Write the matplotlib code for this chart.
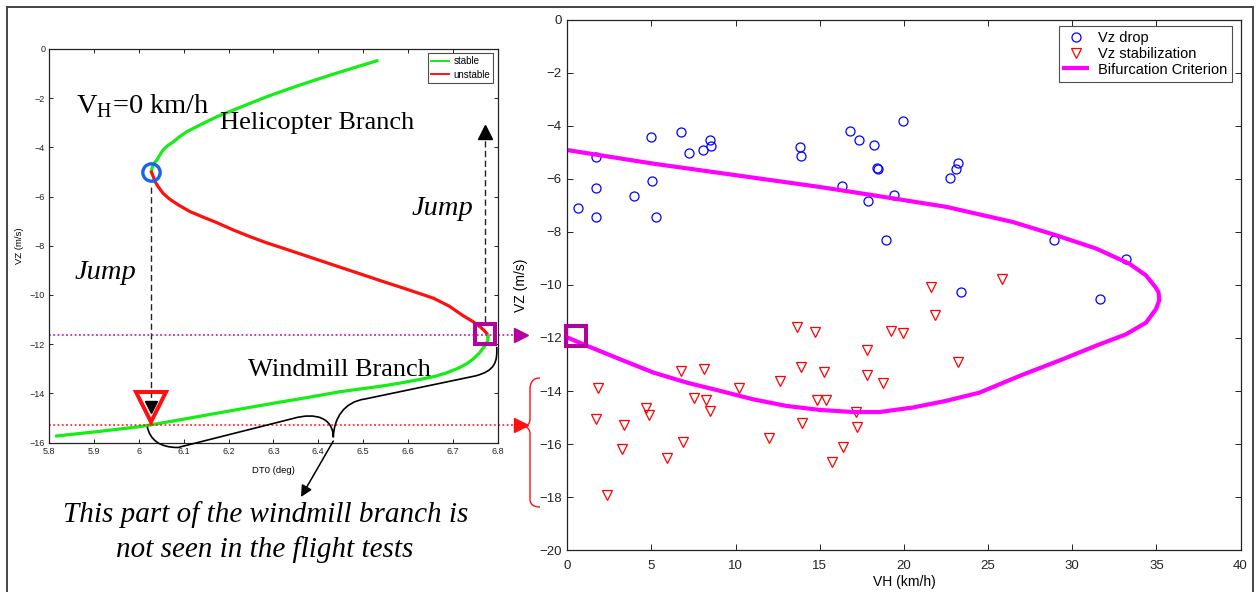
import numpy as np
import matplotlib
matplotlib.use("Agg")
import matplotlib.pyplot as plt
from matplotlib.path import Path
from matplotlib.patches import PathPatch, FancyArrowPatch
from matplotlib.lines import Line2D
from matplotlib.transforms import Affine2D, ScaledTranslation
from matplotlib.ticker import FuncFormatter

# ---------------- bifurcation diagram at VH = 0 : DT0 (deg) vs VZ (m/s) ----------------
stable_upper_dt0 = [6.028, 6.029, 6.032, 6.036, 6.040, 6.047, 6.054, 6.064, 6.077, 6.091, 6.107,
                    6.136, 6.174, 6.211, 6.248, 6.285, 6.322, 6.360, 6.397, 6.434, 6.482, 6.531]
stable_upper_vz = [-5.00, -4.85, -4.70, -4.60, -4.51, -4.30, -4.10, -3.93, -3.77, -3.56, -3.36,
                   -3.09, -2.75, -2.48, -2.21, -1.94, -1.70, -1.46, -1.24, -1.02, -0.75, -0.48]

unstable_dt0 = [6.028, 6.030, 6.032, 6.036, 6.043, 6.054, 6.069, 6.088, 6.114, 6.144, 6.174,
                6.211, 6.248, 6.285, 6.322, 6.378, 6.434, 6.490, 6.546, 6.600, 6.657, 6.692,
                6.724, 6.745, 6.761, 6.770, 6.776, 6.778]
unstable_vz = [-5.00, -5.10, -5.19, -5.39, -5.60, -5.87, -6.11, -6.34, -6.61, -6.84, -7.06,
               -7.36, -7.63, -7.88, -8.10, -8.44, -8.78, -9.12, -9.46, -9.78, -10.13, -10.45,
               -10.85, -11.08, -11.29, -11.44, -11.56, -11.65]

stable_lower_dt0 = [6.778, 6.779, 6.778, 6.775, 6.769, 6.760, 6.746, 6.731, 6.712, 6.687, 6.662,
                    6.636, 6.613, 6.583, 6.553, 6.523, 6.449, 6.375, 6.300, 6.225, 6.151, 6.077,
                    6.0025, 5.909, 5.8164]
stable_lower_vz = [-11.65, -11.72, -11.85, -11.98, -12.13, -12.35, -12.60, -12.80, -12.98, -13.16,
                   -13.30, -13.40, -13.48, -13.58, -13.67, -13.75, -13.93, -14.17, -14.40, -14.64,
                   -14.88, -15.12, -15.35, -15.55, -15.73]

dt0_ticks = [5.8, 5.9, 6.0, 6.1, 6.2, 6.3, 6.4, 6.5, 6.6, 6.7, 6.8]
vz_ticks_left = [0, -2, -4, -6, -8, -10, -12, -14, -16]

# ---------------- flight tests : VH (km/h) vs VZ (m/s) ----------------
drop_vh = [0.62, 1.68, 1.68, 1.68, 3.94, 4.95, 5.03, 5.26, 6.75, 7.22, 8.09, 8.47, 8.51,
           13.81, 13.91, 16.30, 16.80, 17.33, 17.86, 18.22, 18.40, 18.48, 19.39, 19.94,
           18.96, 22.71, 23.11, 23.20, 23.41, 28.94, 33.20, 31.65]
drop_vz = [-7.09, -5.18, -6.35, -7.44, -6.66, -4.42, -6.09, -7.44, -4.23, -5.04, -4.91, -4.55, -4.76,
           -4.80, -5.15, -6.26, -4.21, -4.54, -6.84, -4.74, -5.60, -5.65, -6.62, -3.82,
           -8.32, -5.96, -5.62, -5.39, -10.25, -8.32, -9.01, -10.53]

stab_vh = [1.80, 1.68, 2.37, 3.38, 3.26, 4.65, 4.83, 5.90, 6.75, 6.87, 7.50, 8.13, 8.23,
           8.45, 10.21, 11.99, 12.64, 13.65, 13.87, 13.93, 14.70, 14.84, 15.39, 15.25,
           15.73, 16.38, 17.18, 17.19, 17.83, 17.81, 18.76, 19.25, 19.94, 21.82, 23.20,
           21.62, 25.84]
stab_vz = [-13.87, -15.06, -17.92, -15.28, -16.20, -14.65, -14.89, -16.54, -13.26, -15.92,
           -14.26, -13.18, -14.33, -14.77, -13.87, -15.78, -13.62, -11.57, -13.08, -15.19,
           -11.79, -14.35, -14.35, -13.28, -16.66, -16.09, -14.79, -15.35, -12.46, -13.39,
           -13.71, -11.75, -11.82, -11.14, -12.92, -10.08, -9.77]

crit_vh = [0.00, 5.10, 10.05, 15.00, 18.56, 22.52, 26.47, 29.04, 31.42, 33.39, 34.38, 34.94,
           35.13, 35.17, 34.98, 34.39, 33.20, 31.42, 29.44, 26.87, 24.49, 22.50, 20.53,
           18.56, 16.97, 15.00, 13.02, 11.04, 9.06, 7.09, 5.10, 3.13, 1.15, 0.00]
crit_vz = [-4.92, -5.43, -5.87, -6.31, -6.66, -7.06, -7.63, -8.13, -8.63, -9.20, -9.64, -10.08,
           -10.28, -10.58, -10.91, -11.42, -11.86, -12.29, -12.80, -13.43, -14.06, -14.37, -14.62,
           -14.79, -14.79, -14.71, -14.56, -14.31, -13.99, -13.68, -13.30, -12.80, -12.29, -11.98]

vh_ticks = [0, 5, 10, 15, 20, 25, 30, 35, 40]
vz_ticks_right = [0, -2, -4, -6, -8, -10, -12, -14, -16, -18, -20]

# ---------------- styling ----------------
W, H, DPI = 1256, 592, 100
GREEN = "#14ee14"
RED = "#ff1010"
MAGENTA = "#ff00ff"
PURPLE = "#b4009c"
DARK = "#222222"
SANS = ["Liberation Sans", "DejaVu Sans"]
SERIF = ["Liberation Serif", "DejaVu Serif"]

plt.rcParams["font.family"] = SANS
plt.rcParams["mathtext.fontset"] = "custom"
plt.rcParams["mathtext.rm"] = "Liberation Serif"

fig = plt.figure(figsize=(W / DPI, H / DPI), dpi=DPI)
fig.patch.set_facecolor("white")
# pixel coordinates measured from the top-left corner of the figure
px = Affine2D().scale(1.0 / W, -1.0 / H).translate(0, 1) + fig.transFigure


def rect(x0, y0, x1, y1):
    return [x0 / W, 1 - y1 / H, (x1 - x0) / W, (y1 - y0) / H]


fmt = FuncFormatter(lambda v, _: f"{v:g}".replace("-", "\u2212"))


def style_axes(ax, size, length, pad):
    ax.tick_params(direction="in", top=True, right=True, length=length, width=0.7,
                   labelsize=size, pad=pad, colors=DARK)
    for s in ax.spines.values():
        s.set_linewidth(0.9)
        s.set_color(DARK)
    ax.xaxis.set_major_formatter(fmt)
    ax.yaxis.set_major_formatter(fmt)


# outer frame
for xs, ys in (([7, 7], [7, 700]), ([7, 1253], [7, 7]), ([1253, 1253], [7, 700])):
    fig.add_artist(Line2D(xs, ys, transform=px, color="#444444", lw=1.4))

# ======================= left panel =======================
axL = fig.add_axes(rect(49.3, 49, 497.5, 442.6))
axL.set_xlim(5.8, 6.8)
axL.set_ylim(-16, 0)
axL.set_xticks(dt0_ticks)
axL.set_yticks(vz_ticks_left)
style_axes(axL, 6.5, 3, 3)
axL.set_xlabel("DT0 (deg)", fontsize=6.8)
axL.set_ylabel("VZ (m/s)", fontsize=6.8)
axL.xaxis.set_label_coords(0.501, -0.06)
axL.yaxis.set_label_coords(-0.056, 0.5)

hs, = axL.plot(stable_upper_dt0, stable_upper_vz, color=GREEN, lw=2.3, label="stable")
hu, = axL.plot(unstable_dt0, unstable_vz, color=RED, lw=2.3, label="unstable")
axL.plot(stable_lower_dt0, stable_lower_vz, color=GREEN, lw=2.3)
leg = axL.legend(handles=[hs, hu], loc="upper right", fontsize=7, handlelength=1.8,
                 frameon=True, fancybox=False, borderaxespad=0.45, borderpad=0.3,
                 labelspacing=0.35, handletextpad=0.5)
leg.get_frame().set_edgecolor(DARK)
leg.get_frame().set_linewidth(0.8)
for h in leg.legend_handles:
    h.set_linewidth(1.4)

# fold points and the jump targets they lead to
fold_hi = (stable_upper_dt0[0], stable_upper_vz[0])
fold_lo = (unstable_dt0[-1], unstable_vz[-1])
jump_vz = float(np.interp(fold_hi[0], stable_lower_dt0[::-1], stable_lower_vz[::-1]))

dash = (0, (4.5, 2.5))
axL.plot(*fold_hi, "o", ms=12.5, mfc="none", mec="#1565f0", mew=2.4, zorder=5)
axL.plot([fold_hi[0]] * 2, [fold_hi[1] - 0.62, jump_vz + 1.0], ls=dash, color=DARK, lw=1.0)
axL.plot(fold_hi[0], jump_vz + 0.70, "v", ms=22.3, mfc="none", mec=RED, mew=2.9, zorder=6)
axL.plot(fold_hi[0], jump_vz + 0.70, "v", ms=8.8, color="black", zorder=7)

axL.plot([fold_lo[0] - 0.005] * 2, [fold_lo[1] + 0.55, -3.55], ls=dash, color=DARK, lw=1.0,
         clip_on=False)
axL.plot(fold_lo[0] - 0.005, -3.36, "^", ms=9.5, color="black", clip_on=False)
axL.plot(fold_lo[0] - 0.005, fold_lo[1] + 0.08, "s", ms=14.4, mfc="none", mec=PURPLE, mew=2.9,
         clip_on=False, zorder=6)

dots = (0, (1.2, 1.6))
axL.plot([5.8, 6.836], [fold_lo[1] + 0.03] * 2, ls=dots, color="#c000c0", lw=1.1, clip_on=False)
axL.plot(6.852, fold_lo[1] + 0.03, ">", ms=10, color=PURPLE, clip_on=False)
axL.plot([5.8, 6.836], [jump_vz] * 2, ls=dots, color=RED, lw=1.1, clip_on=False)
axL.plot(6.852, jump_vz, ">", ms=10, color=RED, clip_on=False)

# brace under the low-speed windmill branch
brace = [((147.3, 426.7), Path.MOVETO),
         ((150, 440), Path.CURVE4), ((160, 447.5), Path.CURVE4), ((178, 447.5), Path.CURVE4),
         ((293, 418.5), Path.LINETO),
         ((316, 412), Path.CURVE4), ((333, 418), Path.CURVE4), ((333.3, 437.3), Path.CURVE4),
         ((334, 418), Path.CURVE4), ((344, 402), Path.CURVE4), ((365, 399), Path.CURVE4),
         ((475, 376), Path.LINETO),
         ((495, 371), Path.CURVE4), ((497.5, 362), Path.CURVE4), ((496.7, 346.7), Path.CURVE4)]
verts, codes = zip(*brace)
fig.add_artist(PathPatch(Path(verts, codes), transform=px, fill=False, ec="black", lw=1.2))
fig.add_artist(FancyArrowPatch((333.3, 441), (301, 497), transform=px, arrowstyle="-|>",
                               mutation_scale=17, color="black", lw=1.1, shrinkA=0, shrinkB=0))

# annotations
fig.text(76, 113, r"V$_{\mathrm{H}}$=0 km/h", transform=px, family=SERIF, fontsize=20.5,
         ha="left", va="baseline")
fig.text(220, 129, "Helicopter Branch", transform=px, family=SERIF, fontsize=19,
         ha="left", va="baseline")
fig.text(248, 376, "Windmill Branch", transform=px, family=SERIF, fontsize=19,
         ha="left", va="baseline")
fig.text(75, 279, "Jump", transform=px, family=SERIF, style="italic", fontsize=20.5,
         ha="left", va="baseline")
fig.text(412, 215, "Jump", transform=px, family=SERIF, style="italic", fontsize=20.5,
         ha="left", va="baseline")
fig.text(266, 522, "This part of the windmill branch is", transform=px, family=SERIF,
         style="italic", fontsize=21, ha="center", va="baseline")
fig.text(265, 557, "not seen in the flight tests", transform=px, family=SERIF,
         style="italic", fontsize=21, ha="center", va="baseline")

# ======================= right panel =======================
axR = fig.add_axes(rect(567.3, 19.5, 1240.5, 550.3))
axR.set_xlim(0, 40)
axR.set_ylim(-20, 0)
axR.set_xticks(vh_ticks)
axR.set_yticks(vz_ticks_right)
style_axes(axR, 9.5, 4.5, 4)
axR.tick_params(axis="x", pad=7)
axR.set_xlabel("VH (km/h)", fontsize=10)
axR.set_ylabel("VZ (m/s)", fontsize=10)
axR.xaxis.set_label_coords(0.5, -0.046)
axR.yaxis.set_label_coords(-0.058, 0.5)

axR.plot(drop_vh, drop_vz, "o", ls="none", ms=6.5, mfc="none", mec="#0000ff", mew=0.9,
         label="Vz drop")
axR.plot(stab_vh, stab_vz, "v", ls="none", ms=7.2, mfc="none", mec="#ff0000", mew=0.9,
         label="Vz stabilization")
axR.plot(crit_vh, crit_vz, color=MAGENTA, lw=3.0, label="Bifurcation Criterion",
         solid_joinstyle="round")

legR = axR.legend(loc="upper right", bbox_to_anchor=(1232 / W, 1 - 26 / H),
                  bbox_transform=fig.transFigure, fontsize=10.5, frameon=True, fancybox=False,
                  borderaxespad=0, borderpad=0.35, labelspacing=0.12, handlelength=1.6,
                  handletextpad=0.7)
legR.get_frame().set_edgecolor(DARK)
legR.get_frame().set_linewidth(0.8)

# square marking where the criterion meets VH = 0, plus the brace of stabilisation speeds
axR.plot(crit_vh[-1], crit_vz[-1] + 0.05, "s", ms=14.4, mfc="none", mec=PURPLE, mew=2.9,
         clip_on=False, zorder=6,
         transform=axR.transData + ScaledTranslation(8.5 / DPI, 0, fig.dpi_scale_trans))

rbrace = [((540, 378), Path.MOVETO),
          ((533, 378), Path.CURVE4), ((530, 382), Path.CURVE4), ((530, 390), Path.CURVE4),
          ((530, 419), Path.LINETO),
          ((530, 424), Path.CURVE4), ((527, 426.5), Path.CURVE4), ((523.5, 426.5), Path.CURVE4),
          ((527, 426.5), Path.CURVE4), ((530, 429), Path.CURVE4), ((530, 434), Path.CURVE4),
          ((530, 499), Path.LINETO),
          ((530, 504), Path.CURVE4), ((533, 507), Path.CURVE4), ((540, 507), Path.CURVE4)]
verts, codes = zip(*rbrace)
fig.add_artist(PathPatch(Path(verts, codes), transform=px, fill=False, ec=RED, lw=1.0))

fig.savefig("out.png", dpi=DPI, facecolor="white")
